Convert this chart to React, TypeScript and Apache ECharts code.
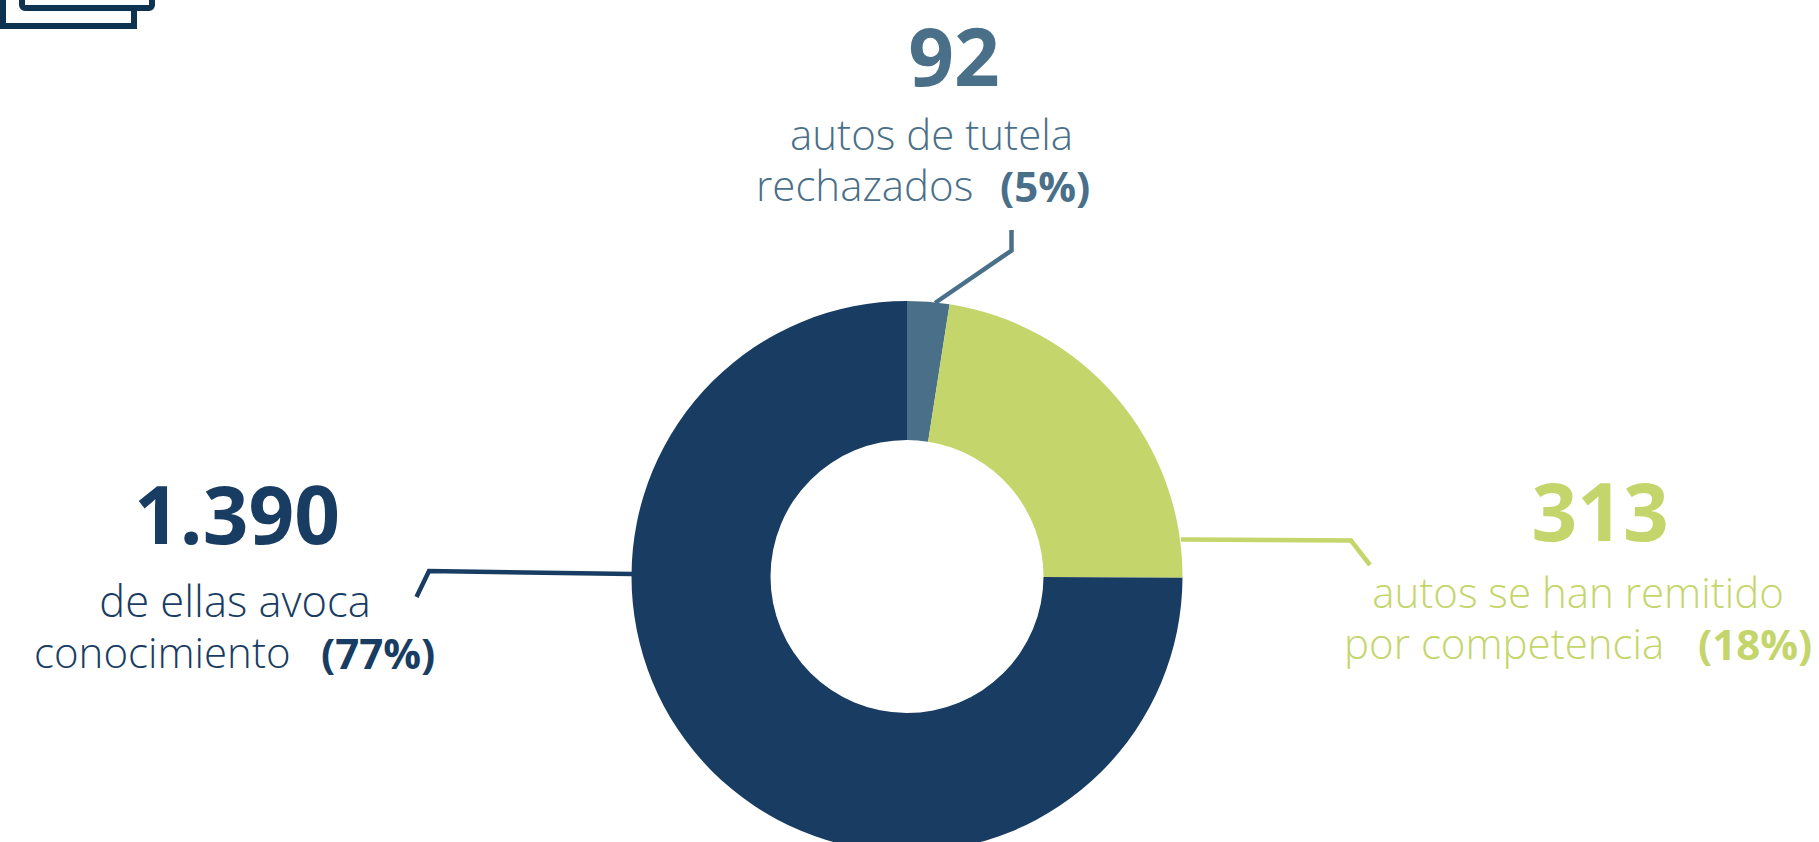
import React, { useEffect, useRef } from "react";
import * as echarts from "echarts";

const categories = ["autos de tutela rechazados", "autos se han remitido por competencia", "de ellas avoca conocimiento"];
const drawnShares = [2.47, 22.6, 74.93];
const colors = ["#4a7089", "#c4d66b", "#193d62"];
const numbers = ["92", "313", "1.390"];
const captions = [["autos de tutela", "rechazados"], ["autos se han remitido", "por competencia"], ["de ellas avoca", "conocimiento"]];
const percents = ["(5%)", "(18%)", "(77%)"];

const FONT = "'Open Sans', sans-serif";
const CAP = 42;
const NUM = 80;
const PCT = 42;

function txt(x: number, y: number, text: string, fill: string, fontSize: number, fontWeight: number, align = "left") {
  return { type: "text", x, y, silent: true, style: { text, fill, fontSize, fontWeight, fontFamily: FONT, align, verticalAlign: "middle" } };
}
function leader(points: number[][], stroke: string) {
  return { type: "polyline", silent: true, shape: { points }, style: { stroke, lineWidth: 4.5, fill: "none" } };
}

export default function App() {
  const ref = useRef<HTMLDivElement>(null);
  useEffect(() => {
    const chart = echarts.init(ref.current!, null, { renderer: "svg" });
    chart.setOption({
      animation: false,
      backgroundColor: "#ffffff",
      series: [{
        type: "pie",
        center: [907, 576.5],
        radius: [136.5, 275.5],
        startAngle: 90,
        clockwise: true,
        label: { show: false },
        labelLine: { show: false },
        emphasis: { disabled: true },
        data: categories.map((name, i) => ({ name, value: drawnShares[i], itemStyle: { color: colors[i] } })),
      }],
      graphic: [
        { type: "rect", shape: { x: 22, y: -40, width: 130, height: 48, r: 3 }, style: { fill: "none", stroke: "#0e3350", lineWidth: 6 } },
        { type: "polyline", shape: { points: [[3, -10], [3, 26], [134, 26], [134, 8]] }, style: { fill: "none", stroke: "#0e3350", lineWidth: 6 } },
        leader([[1011.5, 230], [1011.5, 250.5], [935, 303]], colors[0]),
        leader([[1181, 539.5], [1351, 540.5], [1370, 565]], colors[1]),
        leader([[416.5, 597], [429, 571], [632, 574]], colors[2]),
        txt(954, 54, numbers[0], colors[0], NUM, 700, "center"),
        txt(931.5, 133, captions[0][0], colors[0], CAP, 300, "center"),
        txt(756, 184, captions[0][1], colors[0], CAP, 300),
        txt(1000, 185, percents[0], colors[0], PCT, 700),
        txt(1600, 509, numbers[1], colors[1], NUM, 700, "center"),
        txt(1578, 591, captions[1][0], colors[1], CAP, 300, "center"),
        txt(1344, 642, captions[1][1], colors[1], CAP, 300),
        txt(1698, 643, percents[1], colors[1], PCT, 700),
        txt(237, 512, numbers[2], colors[2], NUM, 700, "center"),
        txt(235, 600, captions[2][0], colors[2], 43.5, 300, "center"),
        txt(34, 651, captions[2][1], colors[2], CAP, 300),
        txt(321, 652, percents[2], colors[2], PCT, 700),
      ],
    });
    return () => chart.dispose();
  }, []);
  return <div ref={ref} style={{ position: "fixed", left: 0, top: 0, width: 1819, height: 842 }} />;
}
